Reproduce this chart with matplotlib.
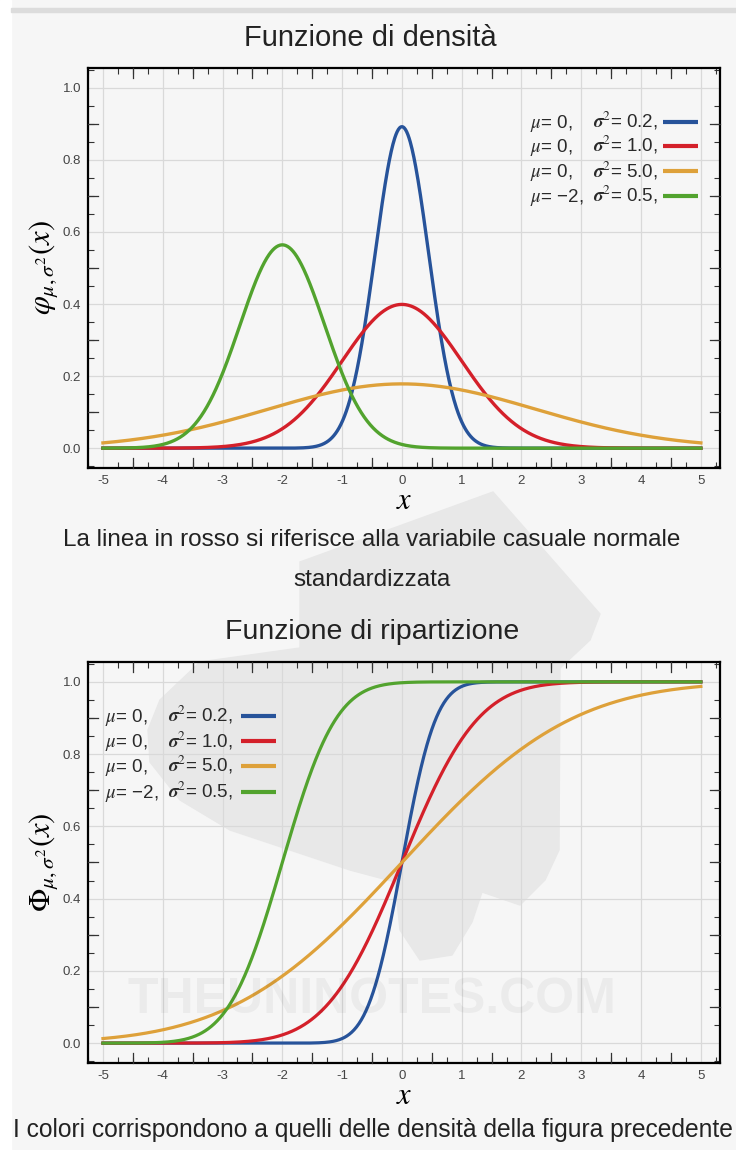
import numpy as np
import matplotlib.pyplot as plt
from math import erf
from matplotlib.ticker import FixedLocator
from matplotlib.patches import Rectangle, Polygon

# parameters of the four normal distributions (from the legend)
mus = [0, 0, 0, -2]
sigma2s = [0.2, 1.0, 5.0, 0.5]
colors = ['#27539a', '#d4202a', '#dea13a', '#52a32e']
x_ticks = [-5, -4, -3, -2, -1, 0, 1, 2, 3, 4, 5]
y_ticks = [0.0, 0.2, 0.4, 0.6, 0.8, 1.0]

x = np.linspace(-5, 5, 1001)


def pdf(x, mu, s2):
    return np.exp(-(x - mu) ** 2 / (2 * s2)) / np.sqrt(2 * np.pi * s2)


def cdf(x, mu, s2):
    z = (x - mu) / np.sqrt(2 * s2)
    return 0.5 * (1 + np.array([erf(v) for v in z]))


plt.rcParams['mathtext.fontset'] = 'stix'
plt.rcParams['font.family'] = ['Liberation Sans', 'DejaVu Sans']

W, H = 736, 1150
fig = plt.figure(figsize=(W / 100, H / 100), dpi=100, facecolor='#f6f6f6')
fig.patches.append(Rectangle((0, 0), 11 / W, 1, transform=fig.transFigure,
                             color='white', zorder=-3))
fig.patches.append(Rectangle((11 / W, 1 - 12 / H), 1, 4 / H,
                             transform=fig.transFigure, color='#dcdcdc', zorder=-3))
# watermark blob (pixel outline)
blob = [(493, 492), (600, 614), (590, 640), (560, 668), (559, 850), (545, 880),
        (520, 905), (482, 892), (472, 922), (452, 955), (420, 960), (400, 930),
        (395, 882), (350, 870), (290, 850), (230, 830), (180, 800), (150, 762),
        (148, 730), (160, 700), (200, 662), (300, 648), (300, 562)]
fig.patches.append(Polygon([(px / W, 1 - py / H) for px, py in blob], closed=True,
                           transform=fig.transFigure, color='#e8e8e8', zorder=-2))


def style_axes(ax):
    ax.set_facecolor('none')
    ax.set_xlim(-5.25, 5.32)
    ax.set_ylim(-0.055, 1.055)
    ax.set_xticks(x_ticks)
    ax.set_yticks(y_ticks)
    ax.set_yticklabels([f'{v:.1f}' for v in y_ticks])
    ax.set_xticklabels([str(v) for v in x_ticks])
    ax.grid(True, color='#d9d9d9', lw=0.9)
    ax.set_axisbelow(True)
    ax.tick_params(which='major', length=0, pad=5, labelsize=9.5, colors='#444444')
    # short ticks every quarter step
    ax.xaxis.set_minor_locator(FixedLocator(np.arange(-5.25, 5.5, 0.25)))
    ax.yaxis.set_minor_locator(FixedLocator(np.arange(-0.05, 1.06, 0.05)))
    ax.tick_params(which='minor', direction='in', length=4, width=0.8,
                   top=True, right=True, color='#333333')
    for sp in ax.spines.values():
        sp.set_linewidth(1.6)
    # half-step ticks longer
    for tx in np.arange(-4.5, 5.0, 1.0):
        for yy, d in [(-0.055, 1), (1.055, -1)]:
            ax.plot([tx, tx], [yy, yy + d * 0.028], color='#333333', lw=0.9,
                    clip_on=False, zorder=5)
    for ty in np.arange(0.1, 1.0, 0.2):
        for xx, d in [(-5.25, 1), (5.32, -1)]:
            ax.plot([xx, xx + d * 0.16], [ty, ty], color='#333333', lw=0.9,
                    clip_on=False, zorder=5)
    ax.set_xlabel(r'$x$', fontsize=22, labelpad=-1)


def table_legend(ax, x_mu, x_sig, x_line, y_rows, top, bottom):
    # legend laid out as a little table, like the original (pixel positions)
    left, right = 88, 720
    fx = lambda px: (px - left) / (right - left)
    fy = lambda py: (bottom - py) / (bottom - top)
    for mu, s2, c, py in zip(mus, sigma2s, colors, y_rows):
        m = str(mu).replace('-', '\u2212')
        ax.text(fx(x_mu), fy(py + 6), rf'$\mathit{{\mu}}$= {m},',
                transform=ax.transAxes, fontsize=13.5, va='baseline', ha='left',
                color='#2a2a2a')
        ax.text(fx(x_sig), fy(py + 6), rf'$\boldsymbol{{\sigma}}^2$= {s2:.1f},',
                transform=ax.transAxes, fontsize=13.5, va='baseline', ha='left',
                color='#2a2a2a')
        ax.plot([fx(x_line[0]), fx(x_line[1])], [fy(py), fy(py)], color=c, lw=3,
                transform=ax.transAxes, solid_capstyle='butt')


# density
ax1 = fig.add_axes([88 / W, 1 - 468 / H, 632 / W, 400 / H])
style_axes(ax1)
for mu, s2, c in zip(mus, sigma2s, colors):
    ax1.plot(x, pdf(x, mu, s2), color=c, lw=2.4)
ax1.set_ylabel(r'$\varphi_{\mu,\sigma^2}(x)$', fontsize=22, labelpad=2)
table_legend(ax1, 530, 593, (663, 698), [122, 146, 171, 196], 68, 468)

# distribution
ax2 = fig.add_axes([88 / W, 1 - 1063 / H, 632 / W, 401 / H])
style_axes(ax2)
for mu, s2, c in zip(mus, sigma2s, colors):
    ax2.plot(x, cdf(x, mu, s2), color=c, lw=2.3)
ax2.set_ylabel(r'$\Phi_{\mu,\sigma^2}(x)$', fontsize=22, labelpad=2)
table_legend(ax2, 105, 168, (241, 276), [716, 741, 766, 792], 662, 1063)

# titles and captions
fig.text(370 / W, 1 - 38 / H, 'Funzione di densità', ha='center', va='center',
         fontsize=21, color='#222222')
fig.text(372 / W, 1 - 540 / H,
         'La linea in rosso si riferisce alla variabile casuale normale',
         ha='center', va='center', fontsize=17.5, color='#222222')
fig.text(372 / W, 1 - 580 / H, 'standardizzata', ha='center', va='center',
         fontsize=17.5, color='#222222')
fig.text(372 / W, 1 - 632 / H, 'Funzione di ripartizione', ha='center',
         va='center', fontsize=20.5, color='#222222')
fig.text(373 / W, 1 - 1130 / H,
         'I colori corrispondono a quelli delle densità della figura precedente',
         ha='center', va='center', fontsize=17.7, color='#222222')

# faint watermark text
fig.text(372 / W, 1 - 1000 / H, 'THEUNINOTES.COM', ha='center', va='center',
         fontsize=36, color='#000000', alpha=0.045, fontweight='bold')

fig.savefig('out.png', dpi=100, facecolor=fig.get_facecolor())
